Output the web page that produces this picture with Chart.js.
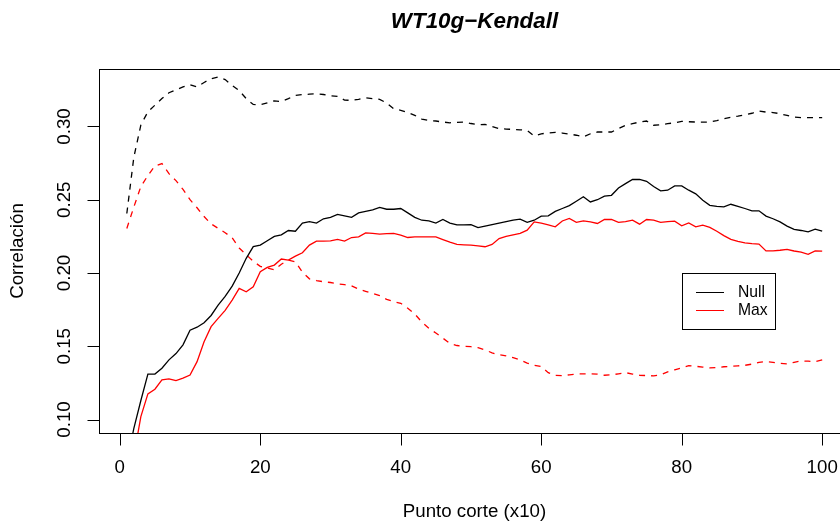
<!DOCTYPE html>
<html>
<head>
<meta charset="utf-8">
<script src="https://cdn.jsdelivr.net/npm/chart.js@4"></script>
<style>
  html, body { margin:0; padding:0; background:#fff; overflow:hidden; }
  #wrap { width:840px; height:525px; overflow:hidden; }
</style>
</head>
<body>
<div id="wrap"><canvas id="plot" width="870" height="525"></canvas></div>
<script>
/* puntos de corte (x10) */
const cortes = Array.from({length:100}, (_, i) => i + 1);

/* correlaciones de Kendall */
const nullSolid = [
  0.070,0.094,0.113,0.131,0.131,0.135,0.1407,0.145,0.151,0.161,
  0.163,0.166,0.171,0.178,0.184,0.191,0.200,0.210,0.218,0.219,
  0.222,0.225,0.226,0.229,0.2285,0.234,0.235,0.234,0.237,0.238,
  0.240,0.239,0.238,0.241,0.242,0.243,0.2447,0.2435,0.2435,0.244,
  0.241,0.238,0.236,0.2356,0.234,0.2365,0.234,0.2328,0.2328,0.233,
  0.231,0.232,0.233,0.234,0.235,0.236,0.2367,0.2345,0.236,0.2388,
  0.239,0.242,0.244,0.246,0.249,0.252,0.2485,0.250,0.2524,0.253,
  0.258,0.261,0.2638,0.2638,0.2626,0.259,0.256,0.2565,0.2594,0.2594,
  0.2565,0.254,0.2497,0.2462,0.2455,0.2451,0.2469,0.2455,0.244,0.2424,
  0.2424,0.2388,0.237,0.2349,0.232,0.2297,0.229,0.2281,0.2299,0.2285
];
const maxSolid = [
  0.050,0.075,0.102,0.1175,0.1207,0.127,0.1277,0.1266,0.1282,0.1304,
  0.1395,0.1531,0.1634,0.169,0.1745,0.1815,0.1895,0.1872,0.1906,0.2008,
  0.2038,0.2054,0.2095,0.2088,0.2115,0.2138,0.219,0.2217,0.2217,0.2219,
  0.2229,0.2217,0.2242,0.2247,0.2274,0.227,0.2265,0.2268,0.227,0.2258,
  0.2242,0.2247,0.2247,0.2247,0.2247,0.2228,0.221,0.2195,0.2192,0.219,
  0.2185,0.2179,0.2195,0.2235,0.225,0.226,0.227,0.2292,0.2349,0.234,
  0.2328,0.2315,0.2355,0.2372,0.2345,0.2355,0.2349,0.2338,0.2365,0.2365,
  0.2345,0.235,0.236,0.2333,0.2365,0.236,0.2345,0.235,0.2354,0.2322,
  0.2342,0.2315,0.2326,0.2311,0.2285,0.2255,0.2229,0.2215,0.2205,0.220,
  0.2197,0.2151,0.2151,0.2155,0.2161,0.215,0.2142,0.2127,0.2151,0.2149
];
const nullDash = [
  0.2406,0.279,0.301,0.310,0.3145,0.319,0.323,0.325,0.327,0.3285,
  0.327,0.330,0.3326,0.3337,0.332,0.328,0.3245,0.319,0.315,0.3148,
  0.316,0.3175,0.317,0.319,0.3212,0.3218,0.322,0.3223,0.3218,0.321,
  0.3205,0.318,0.3178,0.3185,0.3195,0.319,0.3185,0.316,0.312,0.311,
  0.3095,0.3076,0.305,0.304,0.3037,0.303,0.3025,0.3028,0.303,0.302,
  0.3012,0.3014,0.300,0.2985,0.2982,0.298,0.2977,0.2973,0.2935,0.295,
  0.2955,0.296,0.2955,0.2948,0.294,0.2928,0.295,0.2962,0.2962,0.2962,
  0.2985,0.3008,0.3019,0.303,0.3037,0.3008,0.3012,0.3019,0.3025,0.3035,
  0.3032,0.303,0.303,0.303,0.304,0.3053,0.3062,0.307,0.308,0.309,
  0.3105,0.3098,0.3095,0.3087,0.3075,0.3064,0.306,0.306,0.306,0.306
];
const maxDash = [
  0.2304,0.245,0.259,0.2665,0.273,0.2747,0.2678,0.263,0.257,0.250,
  0.2445,0.2385,0.2335,0.2305,0.2275,0.224,0.217,0.2125,0.208,0.2045,
  0.2035,0.2022,0.206,0.2088,0.2076,0.2005,0.196,0.1948,0.194,0.1935,
  0.1925,0.192,0.1912,0.189,0.1875,0.186,0.1845,0.182,0.1805,0.1793,
  0.176,0.172,0.1665,0.1623,0.159,0.1555,0.152,0.1505,0.150,0.1497,
  0.149,0.1475,0.1455,0.1442,0.1435,0.1422,0.1407,0.1385,0.137,0.1362,
  0.132,0.1302,0.130,0.1305,0.1311,0.1311,0.1311,0.131,0.1302,0.1305,
  0.1312,0.132,0.131,0.1302,0.130,0.1298,0.1305,0.1325,0.1339,0.1352,
  0.1368,0.1363,0.1358,0.1352,0.1355,0.136,0.1363,0.1366,0.137,0.1378,
  0.139,0.1395,0.139,0.1383,0.1379,0.139,0.14,0.1398,0.1395,0.1407
];

const xTicks = [0, 20, 40, 60, 80, 100];
const yTicks = [0.10, 0.15, 0.20, 0.25, 0.30];
const yTickText = ['0.10', '0.15', '0.20', '0.25', '0.30'];
const legendNames = ['Null', 'Max'];
const legendColors = ['#000000', '#ff0000'];

const FONT = '"Liberation Sans", Arial, Helvetica, sans-serif';
const pts = arr => arr.map((v, i) => ({ x: cortes[i], y: v }));

function serie(label, data, color, dashed){
  return {
    label, data: pts(data),
    borderColor: color, borderWidth: 1.3,
    borderDash: dashed ? [6, 6] : [],
    pointRadius: 0, tension: 0, fill: false, clip: 0
  };
}

/* ejes, caja, títulos y leyenda al estilo de R */
const rDeco = {
  id: 'rDeco',
  afterDraw(chart){
    const { ctx, chartArea: a, scales: { x, y } } = chart;
    ctx.save();
    ctx.strokeStyle = '#000';
    ctx.lineWidth = 1;
    const L = Math.round(a.left) + 0.5, T = Math.round(a.top) + 0.5;
    const R = Math.round(a.right) + 0.5, B = Math.round(a.bottom) + 0.5;
    ctx.strokeRect(L, T, R - L, B - T);

    ctx.fillStyle = '#000';
    ctx.font = `18.7px ${FONT}`;
    ctx.textAlign = 'center';
    ctx.textBaseline = 'middle';
    ctx.beginPath();
    xTicks.forEach(t => {
      const px = Math.round(x.getPixelForValue(t)) + 0.5;
      ctx.moveTo(px, B); ctx.lineTo(px, B + 12);
    });
    yTicks.forEach(t => {
      const py = Math.round(y.getPixelForValue(t)) + 0.5;
      ctx.moveTo(L, py); ctx.lineTo(L - 12, py);
    });
    ctx.stroke();

    xTicks.forEach(t => ctx.fillText(String(t), x.getPixelForValue(t), 468));
    yTicks.forEach((t, i) => {
      ctx.save();
      ctx.translate(65, y.getPixelForValue(t));
      ctx.rotate(-Math.PI / 2);
      ctx.fillText(yTickText[i], 0, 0);
      ctx.restore();
    });

    const cx = (a.left + a.right) / 2, cy = (a.top + a.bottom) / 2;
    ctx.fillText('Punto corte (x10)', cx, 512);
    ctx.save();
    ctx.translate(18, cy);
    ctx.rotate(-Math.PI / 2);
    ctx.fillText('Correlación', 0, 0);
    ctx.restore();

    ctx.font = `italic bold 22.4px ${FONT}`;
    ctx.fillText('WT10g\u2212Kendall', cx, 22);

    // leyenda
    ctx.strokeStyle = '#000';
    ctx.strokeRect(682.5, 273.5, 93, 56);
    ctx.font = `15.7px ${FONT}`;
    ctx.textAlign = 'left';
    legendNames.forEach((n, i) => {
      const ly = 292 + i * 18;
      ctx.strokeStyle = legendColors[i];
      ctx.lineWidth = 1;
      ctx.beginPath();
      ctx.moveTo(696, ly + 0.5); ctx.lineTo(724, ly + 0.5);
      ctx.stroke();
      ctx.fillText(n, 738, ly + 1);
    });
    ctx.restore();
  }
};

new Chart(document.getElementById('plot'), {
  type: 'line',
  data: {
    datasets: [
      serie('Null', nullSolid, '#000000', false),
      serie('Max', maxSolid, '#ff0000', false),
      serie('Null', nullDash, '#000000', true),
      serie('Max', maxDash, '#ff0000', true)
    ]
  },
  options: {
    responsive: false,
    animation: false,
    devicePixelRatio: 1,
    layout: { padding: { left: 0, top: 69, right: 20, bottom: 0 } },
    plugins: { legend: { display: false }, tooltip: { enabled: false }, title: { display: false } },
    scales: {
      x: {
        type: 'linear', min: -2.96, max: 103.96,
        grid: { display: false }, border: { display: false },
        ticks: { display: false },
        afterFit: s => { s.height = 92; }
      },
      y: {
        min: 0.0908, max: 0.3392,
        grid: { display: false }, border: { display: false },
        ticks: { display: false },
        afterFit: s => { s.width = 99; }
      }
    }
  },
  plugins: [rDeco]
});
</script>
</body>
</html>
